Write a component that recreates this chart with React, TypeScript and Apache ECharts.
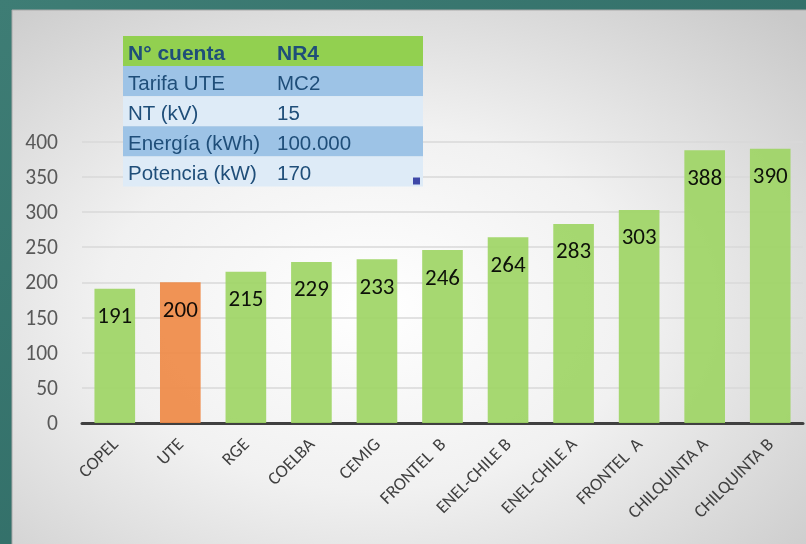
import React, { useEffect, useRef } from "react";
import * as echarts from "echarts";

const categories = ["COPEL", "UTE", "RGE", "COELBA", "CEMIG", "FRONTEL  B", "ENEL-CHILE B", "ENEL-CHILE A", "FRONTEL  A", "CHILQUINTA A", "CHILQUINTA B"];
const values = [191, 200, 215, 229, 233, 246, 264, 283, 303, 388, 390];
const highlight = "UTE";
const yTicks = { min: 0, max: 400, interval: 50 };
const tableLabels = ["N° cuenta", "Tarifa UTE", "NT (kV)", "Energía (kWh)", "Potencia (kW)"];
const tableValues = ["NR4", "MC2", "15", "100.000", "170"];

const FONT = "Carlito, Lato, 'Open Sans', sans-serif";

export default function App() {
  const ref = useRef<HTMLDivElement>(null);
  useEffect(() => {
    if (!ref.current) return;
    const chart = echarts.init(ref.current, null, { renderer: "svg" });
    const rowColors = ["#92D050", "#9DC3E6", "#DEEBF7", "#9DC3E6", "#DEEBF7"];
    const tx = 123, ty = 36, tw = 300, rh = 30.1;
    const tableEls: any[] = [];
    tableLabels.forEach((lab, i) => {
      const f = i === 0 ? "bold 21px 'Liberation Sans', Arial, sans-serif" : "20.5px 'Liberation Sans', Arial, sans-serif";
      tableEls.push({ type: "rect", shape: { x: tx, y: ty + i * rh, width: tw, height: rh }, style: { fill: rowColors[i] }, z: 100 });
      tableEls.push({ type: "text", x: tx + 5, y: ty + i * rh + rh / 2 + 1, style: { text: lab, fill: "#1F4E79", font: f, verticalAlign: "middle" }, z: 101 });
      tableEls.push({ type: "text", x: tx + 154, y: ty + i * rh + rh / 2 + 1, style: { text: tableValues[i], fill: "#1F4E79", font: f, verticalAlign: "middle" }, z: 101 });
    });
    tableEls.push({ type: "rect", shape: { x: tx + tw - 10, y: ty + 5 * rh - 9, width: 7, height: 7 }, style: { fill: "#3F48A8" }, z: 102 });

    chart.setOption({
      animation: false,
      graphic: [
        { type: "rect", shape: { x: 0, y: 0, width: 806, height: 544 }, style: { fill: new echarts.graphic.LinearGradient(0, 0, 1, 1, [{ offset: 0, color: "#3E7D75" }, { offset: 1, color: "#2A6560" }]) }, z: -20 },
        { type: "rect", shape: { x: 12, y: 10, width: 800, height: 540 }, style: { fill: new echarts.graphic.RadialGradient(0.45, 0.55, 0.75, [{ offset: 0, color: "#ffffff" }, { offset: 0.45, color: "#f1f1f1" }, { offset: 1, color: "#c9c9c9" }]), stroke: "#a9a9a9", lineWidth: 1 }, z: -19 },
        ...tableEls,
      ],
      grid: { left: 82, right: 3, top: 141.7, bottom: 121, containLabel: false },
      xAxis: {
        type: "category",
        data: categories,
        axisLine: { show: true, lineStyle: { color: "#404040", width: 3 } },
        axisTick: { show: false },
        axisLabel: { rotate: 45, color: "#404040", fontSize: 18, fontFamily: FONT, margin: 18, interval: 0 },
      },
      yAxis: {
        type: "value",
        min: yTicks.min,
        max: yTicks.max,
        interval: yTicks.interval,
        axisLine: { show: false },
        axisTick: { show: false },
        axisLabel: { color: "#595959", fontSize: 21.5, fontFamily: FONT, margin: 24 },
        splitLine: { lineStyle: { color: "#D9D9D9", width: 1.5 } },
      },
      series: [
        {
          type: "bar",
          barWidth: "62%",
          data: values.map((v, i) => ({
            value: v,
            itemStyle: { color: categories[i] === highlight ? "#EF8A47" : "#9ED565", opacity: 0.92 },
          })),
          label: { show: true, position: "insideTop", distance: 15, color: "#000", fontSize: 23, fontFamily: FONT },
        },
      ],
    });
    return () => chart.dispose();
  }, []);
  return <div ref={ref} style={{ position: "fixed", left: 0, top: 0, width: 806, height: 544 }} />;
}
